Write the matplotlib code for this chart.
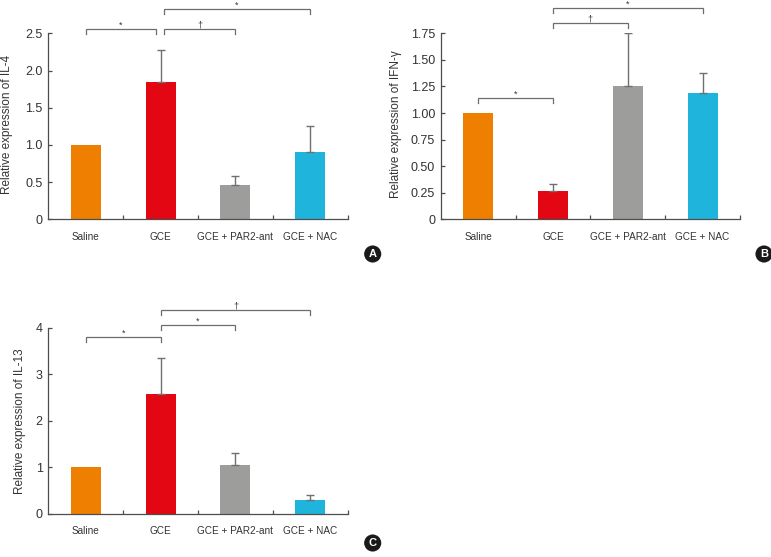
import matplotlib
matplotlib.use("Agg")
import matplotlib.pyplot as plt
import numpy as np

plt.rcParams['font.family'] = ['Liberation Sans', 'DejaVu Sans']

categories = ["Saline", "GCE", "GCE + PAR2-ant", "GCE + NAC"]
colors = ["#EE7F00", "#E30613", "#9D9D9C", "#1FB4DB"]

# Panel A: IL-4
il4_mean = [1.0, 1.85, 0.46, 0.905]
il4_err = [0.0, 0.42, 0.12, 0.345]
il4_brackets = [(0, 1, 2.56, "*"), (1, 2, 2.56, "\u2020"), (1, 3, 2.82, "*")]
il4_yticks = [0, 0.5, 1.0, 1.5, 2.0, 2.5]
il4_yticklabels = ["0", "0.5", "1.0", "1.5", "2.0", "2.5"]

# Panel B: IFN-gamma
ifn_mean = [1.0, 0.267, 1.25, 1.19]
ifn_err = [0.0, 0.063, 0.503, 0.183]
ifn_brackets = [(0, 1, 1.141, "*"), (1, 2, 1.844, "\u2020"), (1, 3, 1.985, "*")]
ifn_yticks = [0, 0.25, 0.5, 0.75, 1.0, 1.25, 1.5, 1.75]
ifn_yticklabels = ["0", "0.25", "0.50", "0.75", "1.00", "1.25", "1.50", "1.75"]

# Panel C: IL-13
il13_mean = [1.0, 2.58, 1.045, 0.293]
il13_err = [0.0, 0.78, 0.275, 0.122]
il13_brackets = [(0, 1, 3.79, "*"), (1, 2, 4.05, "*"), (1, 3, 4.39, "\u2020")]
il13_yticks = [0, 1, 2, 3, 4]
il13_yticklabels = ["0", "1", "2", "3", "4"]

W, H = 771, 557
fig = plt.figure(figsize=(W / 100, H / 100), dpi=100)

spine_c = "#4D4D4D"
brk_c = "#6D6D6D"


def px_axes(left, top, right, bottom):
    return fig.add_axes([left / W, 1 - bottom / H, (right - left) / W, (bottom - top) / H])


def panel(ax, means, errs, brackets, yticks, yticklabels, ylabel, label_xy, offsets):
    x = np.arange(len(categories))
    ax.bar(x, means, width=0.4, color=colors, zorder=2)
    yerr = np.array([np.zeros(len(errs)), errs])
    mask = np.array(errs) > 0
    ax.errorbar(x[mask], np.array(means)[mask], yerr=yerr[:, mask], fmt='none',
                ecolor="#707070", elinewidth=1.0, capsize=3.0, capthick=1.0, zorder=3)
    ax.set_xlim(-0.5, 3.5)
    ymax = yticks[-1]
    ax.set_ylim(0, ymax)
    for s in ["top", "right"]:
        ax.spines[s].set_visible(False)
    for s in ["left", "bottom"]:
        ax.spines[s].set_color(spine_c)
        ax.spines[s].set_linewidth(0.9)
    ax.set_xticks(x)
    ax.set_xticklabels(categories, fontsize=7.2, color="#333333")
    ax.set_xticks([0.5, 1.5, 2.5, 3.5], minor=True)
    ax.tick_params(axis='x', which='major', length=0, pad=9)
    ax.tick_params(axis='x', which='minor', length=3, direction='in', color=spine_c, width=0.9)
    ax.set_yticks(yticks)
    ax.set_yticklabels(yticklabels, fontsize=9, color="#333333")
    ax.tick_params(axis='y', length=3, direction='in', color=spine_c, width=0.9, pad=4)
    ax.set_ylabel(ylabel, fontsize=8.5, color="#333333")
    ax.yaxis.set_label_coords(*label_xy)
    drop = 5.0 * ymax / 186.0
    for k, (i, j, yb, lab) in enumerate(brackets):
        x0 = i + offsets[k][0]
        x1 = j + offsets[k][1]
        ax.plot([x0, x0, x1, x1], [yb - drop, yb, yb, yb - drop], color=brk_c,
                lw=0.9, clip_on=False, solid_joinstyle='miter')
        ax.text((x0 + x1) / 2, yb + drop * 0.3, lab, ha='center', va='baseline',
                fontsize=6.5, color="#333333", clip_on=False)


axA = px_axes(48.3, 33.3, 347.7, 219.3)
panel(axA, il4_mean, il4_err, il4_brackets, il4_yticks, il4_yticklabels,
      "Relative expression of IL-4", (-0.117, 0.51),
      [(0.0, -0.06), (0.04, 0.0), (0.04, 0.0)])

axB = px_axes(440.7, 33.3, 740.0, 219.3)
panel(axB, ifn_mean, ifn_err, ifn_brackets, ifn_yticks, ifn_yticklabels,
      "Relative expression of IFN-\u03b3", (-0.13, 0.51),
      [(0.0, 0.0), (0.0, 0.0), (0.0, 0.0)])

axC = px_axes(48.3, 327.7, 347.7, 514.0)
panel(axC, il13_mean, il13_err, il13_brackets, il13_yticks, il13_yticklabels,
      "Relative expression of IL-13", (-0.075, 0.5),
      [(0.0, 0.0), (0.0, 0.0), (0.0, 0.0)])

for lab, (px, py) in zip(["A", "B", "C"], [(372.7, 254), (764, 254), (372.7, 543)]):
    fig.text(px / W, 1 - py / H, lab, ha='center', va='center', fontsize=8,
             fontweight='bold', color='white',
             bbox=dict(boxstyle='circle,pad=0.32', fc='#1A1A1A', ec='none'))

fig.savefig("out.png", dpi=100, facecolor='white')
